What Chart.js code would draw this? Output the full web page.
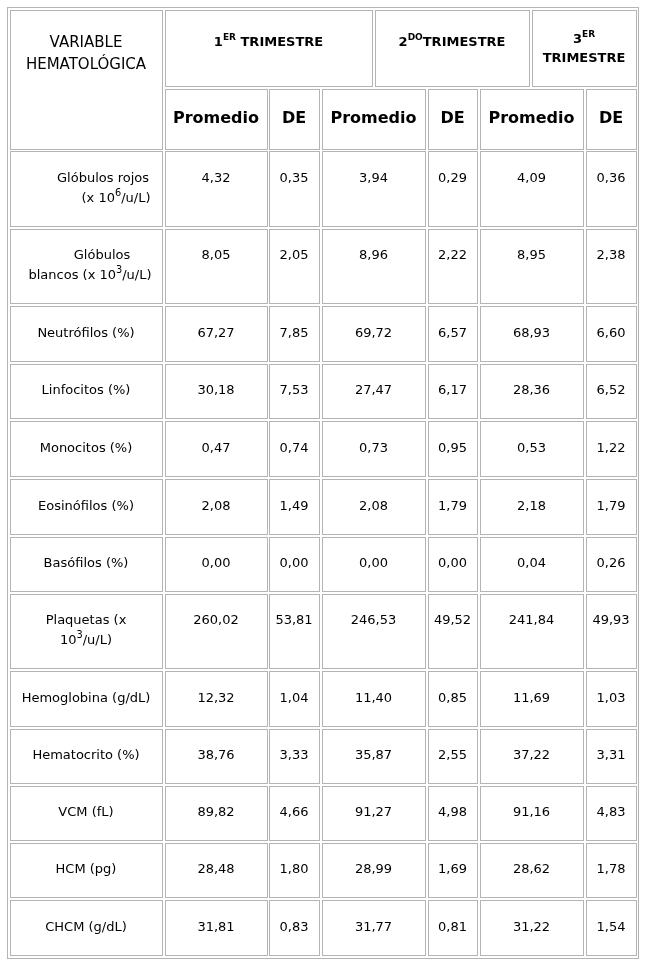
<!DOCTYPE html>
<html>
<head>
<meta charset="utf-8">
<script src="https://cdn.jsdelivr.net/npm/chart.js@4"></script>
<style>
  body { margin: 0; background: #fff; }
  #wrap { width: 645px; height: 965px; }
</style>
</head>
<body>
<div id="wrap"><canvas id="tabla"></canvas></div>
<script>
// datos de la tabla
const variables = [
  ["Glóbulos rojos", "(x 10^6/u/L)"],
  ["Glóbulos", "blancos (x 10^3/u/L)"],
  ["Neutrófilos (%)"],
  ["Linfocitos (%)"],
  ["Monocitos (%)"],
  ["Eosinófilos (%)"],
  ["Basófilos (%)"],
  ["Plaquetas (x", "10^3/u/L)"],
  ["Hemoglobina (g/dL)"],
  ["Hematocrito (%)"],
  ["VCM (fL)"],
  ["HCM (pg)"],
  ["CHCM (g/dL)"]
];
const prom1 = ["4,32", "8,05", "67,27", "30,18", "0,47", "2,08", "0,00", "260,02", "12,32", "38,76", "89,82", "28,48", "31,81"];
const de1 = ["0,35", "2,05", "7,85", "7,53", "0,74", "1,49", "0,00", "53,81", "1,04", "3,33", "4,66", "1,80", "0,83"];
const prom2 = ["3,94", "8,96", "69,72", "27,47", "0,73", "2,08", "0,00", "246,53", "11,40", "35,87", "91,27", "28,99", "31,77"];
const de2 = ["0,29", "2,22", "6,57", "6,17", "0,95", "1,79", "0,00", "49,52", "0,85", "2,55", "4,98", "1,69", "0,81"];
const prom3 = ["4,09", "8,95", "68,93", "28,36", "0,53", "2,18", "0,04", "241,84", "11,69", "37,22", "91,16", "28,62", "31,22"];
const de3 = ["0,36", "2,38", "6,60", "6,52", "1,22", "1,79", "0,26", "49,93", "1,03", "3,31", "4,83", "1,78", "1,54"];
const trimestres = [["1", "ER", " TRIMESTRE"], ["2", "DO", "TRIMESTRE"], ["3", "ER", "TRIMESTRE"]];
const subHeaders = ["Promedio", "DE", "Promedio", "DE", "Promedio", "DE"];

// geometría (pixeles de la página)
const colEdges = [[10, 162], [165, 267], [269, 319], [322, 425], [428, 477], [480, 583], [586, 636]];
const trimEdges = [[165, 372], [375, 529], [532, 636]];
const rowEdges = [[151, 226], [229, 303], [306, 361], [364, 418], [421, 476], [479, 534], [537, 591],
  [594, 668], [671, 726], [729, 783], [786, 840], [843, 897], [900, 955]];
const labelCenters = [[103, 116], [102, 90]];
const FONT = "DejaVu Sans, Verdana, sans-serif";

function drawRich(ctx, str, cx, cy, size, weight) {
  // "a^b/c" -> superíndice
  const parts = [];
  const m = str.match(/^(.*?)\^(\d+)(.*)$/);
  if (m) { parts.push([m[1], false], [m[2], true], [m[3], false]); } else parts.push([str, false]);
  let w = 0;
  parts.forEach(p => { ctx.font = weight + " " + (p[1] ? size * 0.75 : size) + "px " + FONT; w += ctx.measureText(p[0]).width; });
  let x = cx - w / 2;
  parts.forEach(p => {
    ctx.font = weight + " " + (p[1] ? size * 0.75 : size) + "px " + FONT;
    ctx.fillText(p[0], x, p[1] ? cy - size * 0.4 : cy);
    x += ctx.measureText(p[0]).width;
  });
}

const tablaPlugin = {
  id: "tabla",
  afterDraw(chart) {
    const ctx = chart.ctx;
    const X = v => chart.scales.x.getPixelForValue(v);
    const Y = v => chart.scales.y.getPixelForValue(v);
    ctx.save();
    ctx.lineWidth = 1;
    const box = (x0, y0, x1, y1) => {
      ctx.strokeStyle = "#b4b4b4";
      ctx.strokeRect(X(x0) + 0.5, Y(y0) + 0.5, X(x1) - X(x0), Y(y1) - Y(y0));
    };
    box(7, 7, 638, 958);
    box(colEdges[0][0], 10, colEdges[0][1], 149);
    trimEdges.forEach(e => box(e[0], 10, e[1], 86));
    colEdges.slice(1).forEach(e => box(e[0], 89, e[1], 149));
    rowEdges.forEach(r => colEdges.forEach(c => box(c[0], r[0], c[1], r[1])));

    ctx.fillStyle = "#000";
    ctx.textBaseline = "middle";
    ctx.textAlign = "left";
    drawRich(ctx, "VARIABLE", X(86), Y(43), 15, "normal");
    drawRich(ctx, "HEMATOLÓGICA", X(86), Y(65), 15, "normal");

    trimestres.forEach((t, i) => {
      const e = trimEdges[i];
      const cx = (e[0] + e[1]) / 2;
      const draw = (parts, cy) => {
        let w = 0;
        parts.forEach(p => { ctx.font = "bold " + (p[1] ? 9 : 13) + "px " + FONT; w += ctx.measureText(p[0]).width; });
        let x = X(cx) - w / 2;
        parts.forEach(p => {
          ctx.font = "bold " + (p[1] ? 9 : 13) + "px " + FONT;
          ctx.fillText(p[0], x, Y(cy) - (p[1] ? 5 : 0));
          x += ctx.measureText(p[0]).width;
        });
      };
      if (i < 2) draw([[t[0], false], [t[1], true], [t[2], false]], 43);
      else { draw([[t[0], false], [t[1], true]], 40); draw([[t[2], false]], 59); }
    });

    subHeaders.forEach((s, i) => {
      const e = colEdges[i + 1];
      drawRich(ctx, s, X((e[0] + e[1]) / 2), Y(119), 16, "bold");
    });

    const cols = [prom1, de1, prom2, de2, prom3, de3];
    rowEdges.forEach((r, j) => {
      const cy = (r[0] + r[1]) / 2;
      const lines = variables[j];
      lines.forEach((ln, k) => {
        const off = lines.length > 1 ? (k === 0 ? -10 : 10) : 0;
        const cx = j < 2 ? labelCenters[j][k] : 86;
        drawRich(ctx, ln, X(cx), Y(cy + off), 13, "normal");
      });
      const vy = lines.length > 1 ? cy - 10 : cy;
      cols.forEach((arr, i) => {
        const e = colEdges[i + 1];
        drawRich(ctx, arr[j], X((e[0] + e[1]) / 2), Y(vy), 13, "normal");
      });
    });
    ctx.restore();
  }
};

new Chart(document.getElementById("tabla"), {
  type: "scatter",
  data: { datasets: [{ data: [] }] },
  options: {
    responsive: true,
    maintainAspectRatio: false,
    animation: false,
    layout: { padding: 0 },
    plugins: { legend: { display: false }, tooltip: { enabled: false } },
    scales: {
      x: { type: "linear", min: 0, max: 645, display: false },
      y: { type: "linear", min: 0, max: 965, reverse: true, display: false }
    }
  },
  plugins: [tablaPlugin]
});
</script>
</body>
</html>
